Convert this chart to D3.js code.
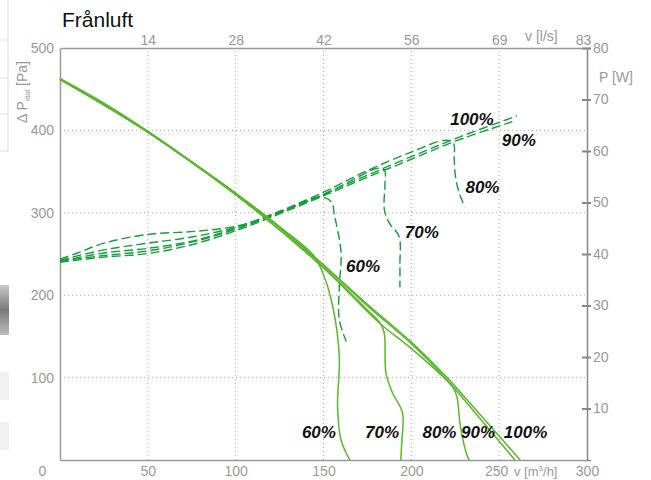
<!DOCTYPE html>
<html>
<head>
<meta charset="utf-8">
<script src="https://cdn.jsdelivr.net/npm/d3@7"></script>
<style>
  body { margin: 0; background: #fff; }
  svg { display: block; font-family: 'Liberation Sans', Arial, sans-serif; }
  .tick text { fill: #999; font-size: 14px; }
  .grid line { stroke: #aaa; stroke-dasharray: 1,3; }
  .pct { font-weight: bold; font-style: italic; font-size: 17px; fill: #111; }
</style>
</head>
<body>
<svg width="651" height="480"></svg>
<script>

// flow in m3/h -> static pressure in Pa
const pressure100 = [[0, 463], [25, 433], [50, 399], [75, 362], [100, 324], [125, 283], [150, 237], [175, 189], [200, 143], [219, 103], [240, 53], [262, 0]]
const pressure90 = [[0, 462], [25, 432], [50, 398], [75, 361], [100, 323], [125, 282], [150, 236], [175, 187], [200, 141], [219, 100], [240, 48], [259, 0]]
const pressure80 = [[0, 462], [50, 398], [100, 322], [150, 233], [182, 166], [199, 137], [218, 101], [224, 87], [226, 76], [228, 40], [232, 4], [233, 0]]
const pressure70 = [[0, 462], [50, 398], [100, 322], [150, 234], [175, 182], [182, 167], [184.5, 155], [185.6, 105], [189.4, 81], [195, 57], [194.5, 20], [194, 0]]
const pressure60 = [[0, 462], [50, 398], [100, 323], [125, 283], [144, 249], [149.6, 227], [155.3, 186], [159, 125], [158, 65], [160, 24], [165, 0]]

// flow in m3/h -> power in W
const power100 = [[0, 38.6], [25, 39.7], [50, 40.6], [75, 42.3], [100, 44.8], [125, 48.0], [150, 51.6], [175, 55.3], [200, 58.9], [225, 62.4], [260, 66.8]]
const power90 = [[0, 38.4], [25, 39.4], [50, 40.1], [75, 41.8], [100, 44.5], [125, 47.8], [150, 51.3], [175, 54.9], [200, 58.4], [225, 61.9], [257.5, 65.7]]
const power80 = [[0, 38.6], [25, 40.2], [50, 41.1], [75, 42.5], [100, 45.0], [125, 48.3], [150, 52.0], [175, 56.2], [200, 59.8], [219.7, 62.1], [224, 61.5], [224.4, 58.3], [225.4, 54.4], [228, 51.1], [230.7, 49.1]]
const power70 = [[0, 38.8], [25, 40.8], [50, 42.1], [75, 43.3], [100, 45.2], [125, 48.2], [150, 51.5], [170, 55.0], [180, 56.6], [184.7, 56.3], [185, 53.8], [184.7, 48.5], [187.5, 46], [193, 43.4], [193.5, 38], [193.5, 33.5]]
const power60 = [[0, 39.0], [10, 40.2], [25, 42.1], [50, 43.8], [77, 44.4], [100, 45.4], [125, 48.0], [144, 50.8], [151, 50.9], [155, 49.9], [156, 48], [160, 40.2], [159, 33.7], [159, 27.2], [163, 23]]

const speeds = ['60%', '70%', '80%', '90%', '100%']
const pressureCurves = [pressure60, pressure70, pressure80, pressure90, pressure100]
const powerCurves = [power60, power70, power80, power90, power100]

const flowTicks = [0, 50, 100, 150, 200, 250, 300]
const litreTickLabels = ['14', '28', '42', '56', '69', '83']
const pressureTicks = [100, 200, 300, 400, 500]
const powerTicks = [10, 20, 30, 40, 50, 60, 70, 80]

// label anchors, in data units
const pressureLabelAt = [[147.4, 27], [183.3, 27], [216, 27], [238, 27], [265, 27]]
const powerLabelAt = [[172.5, 36.6], [206, 43.1], [240.5, 51.9], [261.2, 60.9], [234.5, 65.0]]

const svg = d3.select('svg')
const margin = { top: 48, right: 64, bottom: 20, left: 60 }
const width = +svg.attr('width')
const height = +svg.attr('height')

const x = d3.scaleLinear().domain([0, 300]).range([margin.left, width - margin.right])
const y = d3.scaleLinear().domain([0, 500]).range([height - margin.bottom, margin.top])
const yP = d3.scaleLinear().domain([0, 80]).range([height - margin.bottom, margin.top])

// bits of the page behind the chart, at the left edge
const edge = svg.append('g')
const grad = svg.append('defs').append('linearGradient').attr('id', 'edgeGrad')
  .attr('x1', 0).attr('x2', 0).attr('y1', 0).attr('y2', 1)
grad.append('stop').attr('offset', 0).attr('stop-color', '#c8c8c8')
grad.append('stop').attr('offset', 0.5).attr('stop-color', '#7a7a7a')
grad.append('stop').attr('offset', 1).attr('stop-color', '#bdbdbd')
edge.append('line').attr('x1', 8).attr('x2', 8).attr('y1', 0).attr('y2', 152).attr('stroke', '#ddd')
edge.selectAll('.h').data([40, 78, 114, 151]).enter().append('line')
  .attr('x1', 0).attr('x2', 8).attr('y1', d => d).attr('y2', d => d).attr('stroke', '#ddd')
edge.append('rect').attr('x', 0).attr('y', 285).attr('width', 9).attr('height', 50).attr('fill', 'url(#edgeGrad)')
edge.append('rect').attr('x', 0).attr('y', 372).attr('width', 9).attr('height', 28).attr('fill', '#f0f0f0')
edge.append('rect').attr('x', 0).attr('y', 422).attr('width', 9).attr('height', 28).attr('fill', '#f0f0f0')

// grid
svg.append('g').attr('class', 'grid')
  .selectAll('line').data(flowTicks.slice(1, -1)).enter().append('line')
  .attr('x1', d => x(d)).attr('x2', d => x(d))
  .attr('y1', y(0)).attr('y2', y(500))
svg.append('g').attr('class', 'grid')
  .selectAll('line').data(pressureTicks.slice(0, -1)).enter().append('line')
  .attr('x1', x(0)).attr('x2', x(300))
  .attr('y1', d => y(d)).attr('y2', d => y(d))

// frame / axes
const xAxisG = svg.append('g')
  .attr('transform', `translate(0, ${y(0)})`)
  .call(d3.axisBottom(x).tickValues(flowTicks).tickSize(0).tickPadding(6))
xAxisG.select('.domain').attr('stroke', '#999').attr('stroke-width', 1.5)
xAxisG.selectAll('.tick text').filter(d => d === 0).attr('dx', -18)
xAxisG.selectAll('.tick text').filter(d => d === 250).attr('dx', -3)

const topAxisG = svg.append('g')
  .attr('transform', `translate(0, ${y(500)})`)
  .call(d3.axisTop(x).tickValues(flowTicks.slice(1)).tickSize(0).tickPadding(3)
    .tickFormat((d, i) => litreTickLabels[i]))
topAxisG.select('.domain').attr('stroke', '#999').attr('stroke-width', 1.5)
topAxisG.selectAll('.tick text').filter(d => d === 300).attr('dx', -4)

const leftAxisG = svg.append('g')
  .attr('transform', `translate(${x(0)}, 0)`)
  .call(d3.axisLeft(y).tickValues(pressureTicks).tickSize(0).tickPadding(6))
leftAxisG.select('.domain').attr('stroke', '#999').attr('stroke-width', 1.5)

const rightAxisG = svg.append('g')
  .attr('transform', `translate(${x(300)}, 0)`)
  .call(d3.axisRight(yP).tickValues(powerTicks).tickSize(4).tickPadding(2))
rightAxisG.select('.domain').attr('stroke', '#888').attr('stroke-width', 1.5)
rightAxisG.selectAll('.tick line').attr('x1', -5).attr('stroke', '#888').attr('stroke-width', 2)

// axis titles
svg.append('text').attr('x', x(0) + 2).attr('y', 27)
  .style('font-size', '21px').style('fill', '#111').text('Frånluft')

const yTitle = svg.append('text')
  .attr('transform', `translate(27, 123) rotate(-90)`)
  .style('font-size', '14px').style('fill', '#999')
yTitle.append('tspan').text('Δ P')
yTitle.append('tspan').attr('dy', 3).style('font-size', '7px').text('stat')
yTitle.append('tspan').attr('dy', -3).text(' [Pa]')

svg.append('text').attr('x', 525).attr('y', 41)
  .style('font-size', '14px').style('fill', '#999').text('v [l/s]')
svg.append('text').attr('x', 599).attr('y', 82)
  .style('font-size', '14px').style('fill', '#999').text('P [W]')
const xTitle = svg.append('text').attr('x', 514).attr('y', 476)
  .style('font-size', '13px').style('fill', '#999')
xTitle.append('tspan').text('v [m')
xTitle.append('tspan').attr('dy', -5).style('font-size', '8px').text('3')
xTitle.append('tspan').attr('dy', 5).text('/h]')

// curves
const pressureLine = d3.line()
  .x(d => x(d[0])).y(d => y(d[1]))
  .curve(d3.curveCatmullRom.alpha(0.5))
const powerLine = d3.line()
  .x(d => x(d[0])).y(d => yP(d[1]))
  .curve(d3.curveCatmullRom.alpha(0.5))

svg.append('g').selectAll('path').data(powerCurves).enter().append('path')
  .attr('d', powerLine)
  .attr('fill', 'none')
  .attr('stroke', '#169c3c')
  .attr('stroke-width', 1.4)
  .attr('stroke-dasharray', '9,4')

svg.append('g').selectAll('path').data(pressureCurves).enter().append('path')
  .attr('d', pressureLine)
  .attr('fill', 'none')
  .attr('stroke', '#5cb62e')
  .attr('stroke-width', 1.5)

// speed labels
svg.append('g').selectAll('text').data(speeds).enter().append('text')
  .attr('class', 'pct')
  .attr('text-anchor', 'middle')
  .attr('x', (d, i) => x(pressureLabelAt[i][0]))
  .attr('y', (d, i) => y(pressureLabelAt[i][1]))
  .text(d => d)

svg.append('g').selectAll('text').data(speeds).enter().append('text')
  .attr('class', 'pct')
  .attr('text-anchor', 'middle')
  .attr('x', (d, i) => x(powerLabelAt[i][0]))
  .attr('y', (d, i) => yP(powerLabelAt[i][1]))
  .text(d => d)

</script>
</body>
</html>
